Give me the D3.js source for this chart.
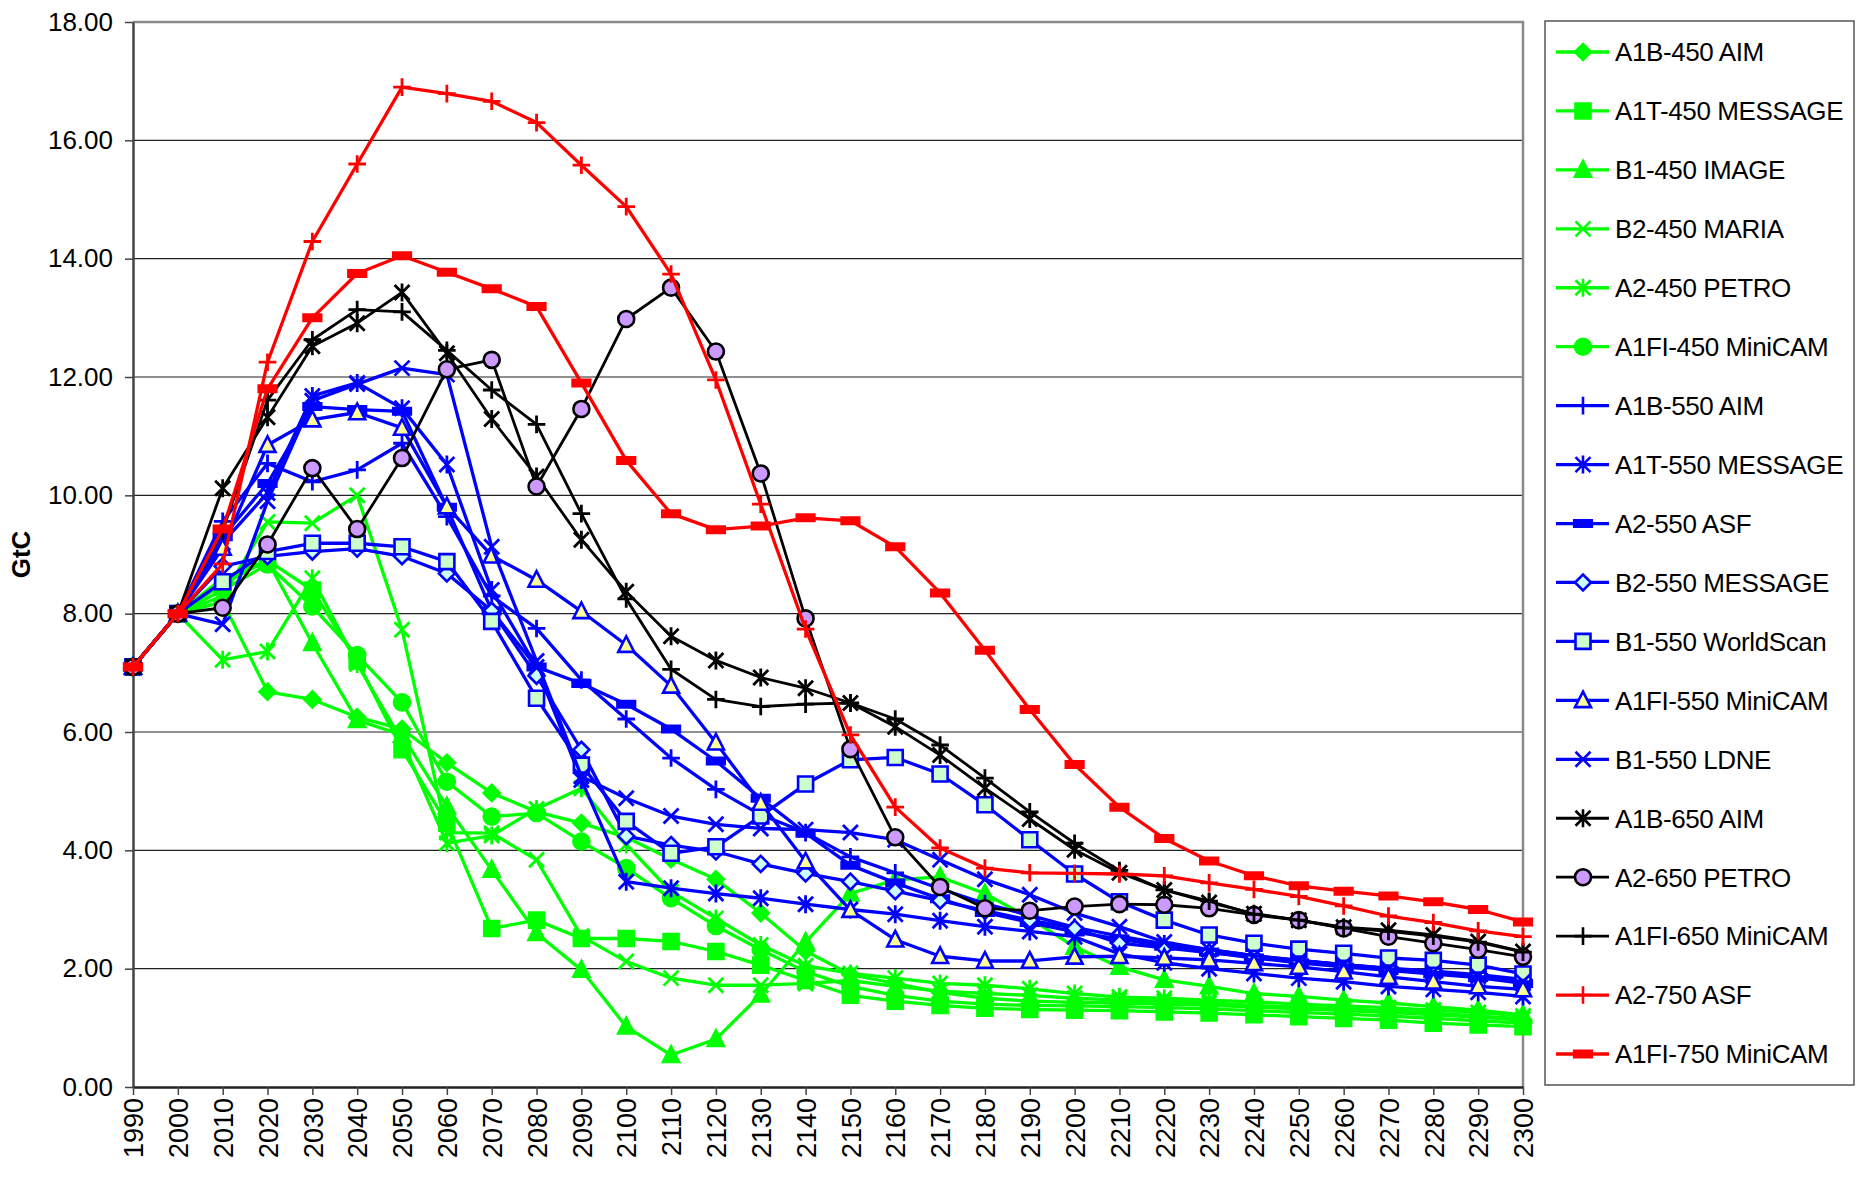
<!DOCTYPE html>
<html>
<head>
<meta charset="utf-8">
<script src="https://cdn.jsdelivr.net/npm/d3@7"></script>
<style>
  body { margin: 0; background: #fff; }
  svg { display: block; font-family: "Liberation Sans", Arial, sans-serif; }
</style>
</head>
<body>
<svg id="chart" width="1858" height="1178"></svg>
<script>
// ---- data -------------------------------------------------------------
const years = d3.range(1990, 2301, 10);
const yTickValues = d3.range(0, 18.01, 2);
const axisTitle = "GtC";

const seriesNames = [
  "A1B-450 AIM", "A1T-450 MESSAGE", "B1-450 IMAGE", "B2-450 MARIA", "A2-450 PETRO",
  "A1FI-450 MiniCAM", "A1B-550 AIM", "A1T-550 MESSAGE", "A2-550 ASF", "B2-550 MESSAGE",
  "B1-550 WorldScan", "A1FI-550 MiniCAM", "B1-550 LDNE", "A1B-650 AIM", "A2-650 PETRO",
  "A1FI-650 MiniCAM", "A2-750 ASF", "A1FI-750 MiniCAM"
];

const a1b450 = [7.1, 8.0, 8.2, 6.68, 6.55, 6.25, 6.05, 5.48, 4.97, 4.65, 4.46, 4.22, 3.85, 3.51, 2.94, 2.3, 1.9, 1.75, 1.6, 1.5, 1.45, 1.43, 1.42, 1.4, 1.38, 1.35, 1.32, 1.29, 1.26, 1.22, 1.18, 1.13];
const a1t450 = [7.1, 8.0, 8.5, 8.9, 8.4, 7.2, 5.7, 4.46, 2.68, 2.82, 2.51, 2.51, 2.46, 2.29, 2.06, 1.8, 1.55, 1.45, 1.38, 1.33, 1.31, 1.3, 1.29, 1.27, 1.25, 1.22, 1.19, 1.16, 1.13, 1.08, 1.05, 1.02];
const b1450 = [7.1, 8.0, 8.6, 8.9, 7.5, 6.2, 5.95, 4.74, 3.67, 2.6, 1.98, 1.02, 0.54, 0.81, 1.56, 2.45, 3.27, 3.5, 3.55, 3.27, 2.85, 2.37, 2.03, 1.81, 1.7, 1.58, 1.53, 1.47, 1.42, 1.36, 1.3, 1.22];
const b2450 = [7.1, 8.0, 8.3, 9.55, 9.53, 10.0, 7.73, 4.3, 4.29, 3.84, 2.55, 2.12, 1.84, 1.72, 1.72, 1.75, 1.8, 1.7, 1.62, 1.58, 1.55, 1.5, 1.47, 1.45, 1.42, 1.38, 1.35, 1.32, 1.29, 1.25, 1.2, 1.15];
const a2450 = [7.1, 8.0, 7.22, 7.36, 8.6, 7.15, 5.85, 4.12, 4.25, 4.7, 5.05, 4.1, 3.3, 2.85, 2.4, 2.05, 1.92, 1.84, 1.75, 1.72, 1.66, 1.58, 1.52, 1.5, 1.47, 1.44, 1.4, 1.37, 1.34, 1.3, 1.26, 1.2];
const a1fi450 = [7.1, 8.0, 8.4, 8.83, 8.12, 7.3, 6.5, 5.16, 4.57, 4.63, 4.15, 3.7, 3.19, 2.72, 2.32, 1.95, 1.7, 1.55, 1.45, 1.4, 1.38, 1.37, 1.36, 1.34, 1.32, 1.29, 1.26, 1.23, 1.2, 1.16, 1.12, 1.08];
const a1b550 = [7.1, 8.0, 9.56, 10.54, 10.23, 10.43, 10.88, 9.64, 8.3, 7.75, 6.88, 6.22, 5.56, 5.03, 4.6, 4.3, 3.89, 3.62, 3.35, 3.1, 2.9, 2.7, 2.55, 2.42, 2.32, 2.22, 2.14, 2.07, 2.0, 1.94, 1.88, 1.78];
const a1t550 = [7.1, 8.0, 9.2, 10.04, 11.68, 11.9, 11.47, 10.52, 8.4, 7.1, 5.19, 3.47, 3.36, 3.27, 3.19, 3.09, 3.0, 2.92, 2.81, 2.71, 2.63, 2.54, 2.25, 2.1, 2.0, 1.92, 1.84, 1.78, 1.7, 1.65, 1.6, 1.53];
const a2550 = [7.1, 8.0, 9.3, 10.2, 11.5, 11.45, 11.42, 9.8, 8.05, 7.1, 6.82, 6.47, 6.05, 5.51, 4.88, 4.29, 3.75, 3.45, 3.18, 2.95, 2.78, 2.62, 2.5, 2.38, 2.28, 2.18, 2.1, 2.03, 1.97, 1.91, 1.85, 1.75];
const b2550 = [7.1, 8.0, 8.8, 8.97, 9.05, 9.1, 8.97, 8.68, 8.05, 6.95, 5.7, 4.24, 4.09, 3.98, 3.77, 3.61, 3.47, 3.31, 3.15, 2.98, 2.82, 2.68, 2.43, 2.35, 2.27, 2.2, 2.13, 2.07, 2.01, 1.96, 1.9, 1.82];
const b1550ws = [7.1, 8.0, 8.54, 9.05, 9.19, 9.19, 9.13, 8.88, 7.87, 6.57, 5.44, 4.49, 3.95, 4.06, 4.58, 5.12, 5.53, 5.57, 5.29, 4.77, 4.18, 3.6, 3.13, 2.82, 2.57, 2.43, 2.33, 2.26, 2.18, 2.14, 2.06, 1.91];
const a1fi550 = [7.1, 8.0, 9.11, 10.85, 11.28, 11.4, 11.14, 9.81, 8.98, 8.57, 8.04, 7.47, 6.78, 5.82, 4.8, 3.81, 2.99, 2.49, 2.21, 2.13, 2.13, 2.2, 2.21, 2.18, 2.15, 2.09, 2.03, 1.95, 1.86, 1.78, 1.7, 1.65];
const b1550ldne = [7.1, 8.0, 7.82, 9.9, 11.6, 11.88, 12.15, 12.04, 9.13, 7.2, 5.25, 4.88, 4.58, 4.44, 4.37, 4.35, 4.3, 4.18, 3.84, 3.51, 3.25, 2.94, 2.71, 2.45, 2.32, 2.22, 2.14, 2.07, 2.0, 1.94, 1.87, 1.78];
const a1b650 = [7.1, 8.0, 10.12, 11.32, 12.52, 12.91, 13.43, 12.4, 11.29, 10.32, 9.25, 8.37, 7.62, 7.21, 6.92, 6.74, 6.49, 6.09, 5.61, 5.05, 4.53, 4.01, 3.62, 3.33, 3.12, 2.93, 2.82, 2.7, 2.65, 2.57, 2.46, 2.29];
const a2650 = [7.1, 8.0, 8.1, 9.17, 10.46, 9.43, 10.63, 12.13, 12.29, 10.15, 11.46, 12.98, 13.51, 12.43, 10.37, 7.92, 5.71, 4.22, 3.38, 3.02, 2.98, 3.05, 3.09, 3.08, 3.02, 2.91, 2.82, 2.68, 2.54, 2.43, 2.32, 2.2];
const a1fi650 = [7.1, 8.0, 9.4, 11.61, 12.63, 13.14, 13.1, 12.45, 11.78, 11.2, 9.69, 8.25, 7.06, 6.55, 6.43, 6.47, 6.49, 6.22, 5.78, 5.22, 4.65, 4.12, 3.66, 3.33, 3.14, 2.92, 2.82, 2.69, 2.63, 2.55, 2.45, 2.28];
const a2750 = [7.1, 8.0, 8.84, 12.25, 14.29, 15.6, 16.9, 16.79, 16.66, 16.3, 15.58, 14.88, 13.74, 11.95, 9.85, 7.74, 5.95, 4.73, 4.04, 3.7, 3.62, 3.61, 3.6, 3.57, 3.45, 3.34, 3.22, 3.06, 2.89, 2.78, 2.64, 2.54];
const a1fi750 = [7.1, 8.0, 9.43, 11.8, 13.0, 13.75, 14.05, 13.77, 13.49, 13.19, 11.9, 10.59, 9.69, 9.42, 9.48, 9.62, 9.57, 9.13, 8.35, 7.38, 6.38, 5.45, 4.73, 4.2, 3.82, 3.57, 3.4, 3.31, 3.23, 3.13, 3.0, 2.79];

const seriesValues = [a1b450, a1t450, b1450, b2450, a2450, a1fi450, a1b550, a1t550, a2550, b2550,
  b1550ws, a1fi550, b1550ldne, a1b650, a2650, a1fi650, a2750, a1fi750];

// ---- styling ----------------------------------------------------------
const GREEN = "#00ff00", BLUE = "#0000ff", BLACK = "#000000", RED = "#ff0000";
const styles = [
  { color: GREEN, marker: "diamond",  fill: GREEN },
  { color: GREEN, marker: "square",   fill: GREEN },
  { color: GREEN, marker: "triangle", fill: GREEN },
  { color: GREEN, marker: "x" },
  { color: GREEN, marker: "asterisk" },
  { color: GREEN, marker: "circle",   fill: GREEN },
  { color: BLUE,  marker: "plus" },
  { color: BLUE,  marker: "asterisk" },
  { color: BLUE,  marker: "dash",     fill: BLUE },
  { color: BLUE,  marker: "diamond",  fill: "#ccffff" },
  { color: BLUE,  marker: "square",   fill: "#ccffcc" },
  { color: BLUE,  marker: "triangle", fill: "#ffff99" },
  { color: BLUE,  marker: "x" },
  { color: BLACK, marker: "asterisk" },
  { color: BLACK, marker: "circle",   fill: "#cc99ff" },
  { color: BLACK, marker: "plus" },
  { color: RED,   marker: "plus" },
  { color: RED,   marker: "dash",     fill: RED }
];

function markerPath(type, r) {
  switch (type) {
    case "diamond":  return `M0,${-r}L${r},0L0,${r}L${-r},0Z`;
    case "square":   return `M${-r},${-r}H${r}V${r}H${-r}Z`;
    case "triangle": return `M0,${-r * 1.1}L${r},${r * 0.85}L${-r},${r * 0.85}Z`;
    case "x":        return `M${-r},${-r}L${r},${r}M${-r},${r}L${r},${-r}`;
    case "asterisk": return `M${-r},${-r}L${r},${r}M${-r},${r}L${r},${-r}M0,${-r * 1.2}V${r * 1.2}`;
    case "plus":     return `M${-r * 1.1},0H${r * 1.1}M0,${-r * 1.1}V${r * 1.1}`;
    case "dash":     return `M${-r * 1.1},${-r * 0.4}H${r * 1.1}V${r * 0.4}H${-r * 1.1}Z`;
    case "circle":   return `M${r},0A${r},${r} 0 1,1 ${-r},0A${r},${r} 0 1,1 ${r},0Z`;
  }
}
const markerSize = { diamond: 8, square: 7.5, triangle: 8, x: 7.5, asterisk: 7.5, plus: 8, dash: 8, circle: 8 };

// ---- layout -----------------------------------------------------------
const plot = { left: 133, right: 1523, top: 22, bottom: 1087 };
const svg = d3.select("#chart");

const x = d3.scaleLinear().domain([1990, 2300]).range([plot.left, plot.right]);
const y = d3.scaleLinear().domain([0, 18]).range([plot.bottom, plot.top]);

// gridlines
svg.append("g")
  .selectAll("line")
  .data(yTickValues.filter(v => v > 0 && v < 18))
  .join("line")
  .attr("x1", plot.left).attr("x2", plot.right)
  .attr("y1", d => y(d)).attr("y2", d => y(d))
  .attr("stroke", "#222").attr("stroke-width", 1.2);

// plot frame (top / right)
svg.append("path")
  .attr("d", `M${plot.left},${plot.top}H${plot.right}V${plot.bottom}`)
  .attr("fill", "none").attr("stroke", "#8a8a8a").attr("stroke-width", 2.5);

// y axis
const yAxis = svg.append("g")
  .attr("transform", `translate(${plot.left},0)`)
  .call(d3.axisLeft(y).tickValues(yTickValues).tickFormat(d3.format(".2f"))
    .tickSize(8).tickPadding(12).tickSizeOuter(0));
yAxis.select(".domain").attr("stroke", "#444").attr("stroke-width", 2.5);
yAxis.selectAll(".tick line").attr("stroke", "#444").attr("stroke-width", 1.5);
yAxis.selectAll(".tick text")
  .attr("font-family", "Liberation Sans, Arial, sans-serif")
  .attr("font-size", 26).attr("fill", "#000");

// x axis
const xAxis = svg.append("g")
  .attr("transform", `translate(0,${plot.bottom})`)
  .call(d3.axisBottom(x).tickValues(years).tickFormat(d3.format("d"))
    .tickSize(8).tickSizeOuter(0));
xAxis.select(".domain").attr("stroke", "#222").attr("stroke-width", 2.5);
xAxis.selectAll(".tick line").attr("stroke", "#444").attr("stroke-width", 1.5);
xAxis.selectAll(".tick text")
  .attr("font-family", "Liberation Sans, Arial, sans-serif")
  .attr("font-size", 27).attr("fill", "#000")
  .attr("transform", "rotate(-90)")
  .attr("text-anchor", "end")
  .attr("x", -11).attr("y", 0).attr("dy", "0.36em");

// axis title
svg.append("text")
  .attr("transform", `translate(30,${(plot.top + plot.bottom) / 2}) rotate(-90)`)
  .attr("text-anchor", "middle")
  .attr("font-size", 26).attr("font-weight", "bold")
  .text(axisTitle);

// ---- series -----------------------------------------------------------
const line = d3.line().x((d, i) => x(years[i])).y(d => y(d));

seriesValues.forEach((vals, si) => {
  const st = styles[si];
  const g = svg.append("g").attr("class", "series");
  g.append("path")
    .attr("d", line(vals))
    .attr("fill", "none")
    .attr("stroke", st.color)
    .attr("stroke-width", st.color === BLACK ? 2.8 : 3.3)
    .attr("stroke-linejoin", "round");
  const r = markerSize[st.marker];
  g.selectAll("path.m")
    .data(vals)
    .join("path")
    .attr("class", "m")
    .attr("transform", (d, i) => `translate(${x(years[i])},${y(d)})`)
    .attr("d", markerPath(st.marker, r))
    .attr("fill", st.fill || "none")
    .attr("stroke", st.color)
    .attr("stroke-width", st.fill ? 2.6 : 2.8);
});

// ---- legend -----------------------------------------------------------
const legend = svg.append("g");
legend.append("rect")
  .attr("x", 1545).attr("y", 21).attr("width", 309).attr("height", 1064)
  .attr("fill", "#fff").attr("stroke", "#555").attr("stroke-width", 1.5);

const legY = d3.scalePoint().domain(seriesNames).range([52, 1054]);
seriesNames.forEach((name, si) => {
  const st = styles[si];
  const cy = legY(name);
  const row = legend.append("g").attr("transform", `translate(0,${cy})`);
  row.append("line")
    .attr("x1", 1556).attr("x2", 1609).attr("y1", 0).attr("y2", 0)
    .attr("stroke", st.color).attr("stroke-width", st.color === BLACK ? 2.8 : 3.3);
  row.append("path")
    .attr("transform", "translate(1583,0)")
    .attr("d", markerPath(st.marker, markerSize[st.marker]))
    .attr("fill", st.fill || "none")
    .attr("stroke", st.color)
    .attr("stroke-width", 2.6);
  const t = row.append("text")
    .attr("x", 1615).attr("y", 0).attr("dy", "0.36em")
    .attr("font-size", 26).attr("letter-spacing", -0.4)
    .text(name);
  const maxW = 234;
  if (t.node().getComputedTextLength() > maxW) {
    t.attr("textLength", maxW).attr("lengthAdjust", "spacingAndGlyphs");
  }
});
</script>
</body>
</html>
